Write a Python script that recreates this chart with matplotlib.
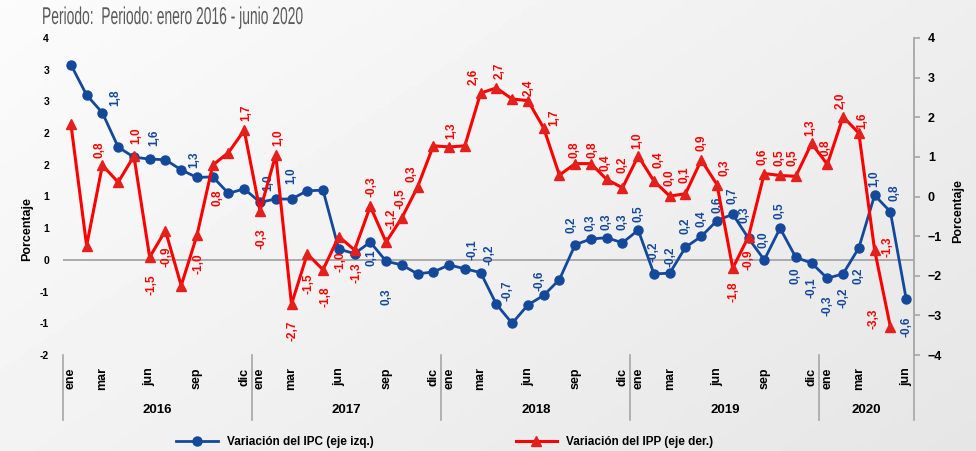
import numpy as np
import matplotlib
matplotlib.use("Agg")
import matplotlib.pyplot as plt
from matplotlib.lines import Line2D
from matplotlib.ticker import FuncFormatter
from matplotlib.patheffects import AbstractPathEffect
from matplotlib.transforms import Affine2D

# --- data ---
years = [2016, 2017, 2018, 2019, 2020]
months = ['ene', 'feb', 'mar', 'abr', 'may', 'jun', 'jul', 'ago', 'sep', 'oct', 'nov', 'dic']
shown_months = ['ene', 'mar', 'jun', 'sep', 'dic']
n_last_year = 6

ipc = [3.08, 2.60, 2.32, 1.78, 1.62, 1.59, 1.58, 1.42, 1.30, 1.31, 1.05, 1.12,
       0.91, 0.96, 0.96, 1.09, 1.10, 0.17, 0.10, 0.28, -0.02, -0.08, -0.22, -0.19,
       -0.08, -0.14, -0.20, -0.70, -1.00, -0.71, -0.56, -0.31, 0.24, 0.33, 0.35, 0.27,
       0.47, -0.22, -0.21, 0.20, 0.37, 0.62, 0.72, 0.34, 0.00, 0.50, 0.04, -0.05,
       -0.29, -0.22, 0.19, 1.02, 0.76, -0.61]

ipp = [1.83, -1.24, 0.79, 0.36, 1.02, -1.53, -0.86, -2.25, -0.98, 0.79, 1.11, 1.67,
       -0.36, 1.05, -2.72, -1.45, -1.85, -1.01, -1.35, -0.25, -1.15, -0.54, 0.24, 1.28,
       1.25, 1.28, 2.61, 2.74, 2.46, 2.42, 1.73, 0.54, 0.83, 0.83, 0.43, 0.22,
       1.02, 0.39, 0.01, 0.07, 0.92, 0.30, -1.81, -1.01, 0.58, 0.53, 0.51, 1.34,
       0.81, 2.01, 1.60, -1.35, -3.29, np.nan]

# data labels as printed on the chart (index -> text)
ipc_labels = {3: '1,8', 5: '1,6', 8: '1,3', 13: '1,0', 14: '1,0', 19: '0,1', 20: '0,3',
              25: '-0,1', 26: '-0,2', 27: '-0,7', 30: '-0,6', 32: '0,2', 33: '0,3',
              34: '0,3', 35: '0,3', 36: '0,5', 37: '-0,2', 38: '-0,2', 39: '0,2',
              40: '0,4', 41: '0,6', 42: '0,7', 43: '0,3', 44: '0,0', 45: '0,5',
              46: '0,0', 47: '-0,1', 48: '-0,3', 49: '-0,2', 50: '0,2', 51: '1,0',
              52: '0,8', 53: '-0,6'}
ipp_labels = {2: '0,8', 4: '1,0', 5: '-1,5', 6: '-0,9', 8: '-1,0', 9: '0,8', 11: '1,7',
              12: '-0,3', 13: '1,0', 14: '-2,7', 15: '-1,5', 16: '-1,8', 17: '-1,0',
              18: '-1,3', 19: '-0,3', 20: '-1,2', 21: '-0,5', 22: '0,3', 24: '1,3',
              26: '2,6', 27: '2,7', 29: '2,4', 30: '1,7', 32: '0,8', 33: '0,8',
              34: '0,4', 35: '0,2', 36: '1,0', 37: '0,4', 38: '0,0', 39: '0,1',
              40: '0,9', 41: '0,3', 42: '-1,8', 43: '-0,9', 44: '0,6', 45: '0,5',
              46: '0,5', 47: '1,3', 48: '0,8', 49: '2,0', 50: '1,6', 51: '-1,3',
              52: '-3,3'}

# label placement, pixel offsets from the point (x right, y down)
ipc_off = {3: (-3, -49), 5: (5, -21), 8: (-3, -18), 13: (-8, -16), 14: (0, -23),
           19: (1, 16), 20: (0, 36), 25: (8, -19), 26: (9, -18), 27: (11, -14),
           30: (-4, -15), 32: (-4, -20), 33: (0, -16), 34: (0, -16), 35: (0, -21),
           36: (0, -16), 37: (0, -22), 38: (1, -16), 39: (0, -21), 40: (0, -18),
           41: (0, -16), 42: (0, -19), 43: (-4, -24), 44: (-1, -20), 45: (-1, -18),
           46: (0, 18), 47: (0, 25), 48: (0, 27), 49: (0, 24), 50: (0, 28),
           51: (0, -17), 52: (4, -19), 53: (0, 28)}
ipp_off = {2: (-3, -15), 4: (2, -20), 5: (2, 28), 6: (1, 26), 8: (2, 28), 9: (5, 33),
           11: (2, -18), 12: (2, 28), 13: (3, -17), 14: (1, 27), 15: (1, 30),
           16: (2, 27), 17: (2, 25), 18: (2, 23), 19: (1, -20), 20: (5, -23),
           21: (-1, -19), 22: (-6, -13), 24: (2, -16), 26: (-7, -16), 27: (3, -17),
           29: (1, -13), 30: (11, -10), 32: (-1, -14), 33: (2, -14), 34: (-1, -17),
           35: (0, -23), 36: (-1, -15), 37: (5, -21), 38: (0, -18), 39: (-1, -19),
           40: (0, -17), 41: (7, -17), 42: (1, 24), 43: (0, 23), 44: (-2, -17),
           45: (-1, -18), 46: (-3, -19), 47: (-1, -16), 48: (-2, -17), 49: (-2, -16),
           50: (3, -12), 51: (13, -3), 52: (-17, -8)}

BLUE = '#14489a'
RED = '#ff0000'
RED_MK = '#e3201c'
GRAY = '#a6a6a6'
FONT = ['Liberation Sans', 'DejaVu Sans']

plt.rcParams['font.family'] = FONT

W, H = 976, 451
fig = plt.figure(figsize=(W / 100, H / 100), dpi=100)


class Condense(AbstractPathEffect):
    # squeeze text horizontally around x0 (display pixels), like a condensed face
    def __init__(self, sx, x0):
        super().__init__()
        self.sx = sx
        self.x0 = x0

    def draw_path(self, renderer, gc, tpath, affine, rgbFace=None):
        squeeze = Affine2D().translate(-self.x0, 0).scale(self.sx, 1).translate(self.x0, 0)
        renderer.draw_path(gc, tpath, affine + squeeze, rgbFace)


# soft diagonal gradient background
bg = fig.add_axes([0, 0, 1, 1], zorder=-10)
gx, gy = np.meshgrid(np.linspace(0, 1, 200), np.linspace(0, 1, 100))
grad = 0.985 - 0.085 * (0.6 * gx + 0.4 * gy)
bg.imshow(grad, cmap='gray', vmin=0, vmax=1, aspect='auto', extent=[0, 1, 0, 1])
bg.axis('off')

ax = fig.add_axes([63 / W, 96 / H, 851 / W, 317 / H])
ax.set_facecolor('none')
ax2 = ax.twinx()

x = np.arange(len(ipc))

ax.axhline(0, color=GRAY, lw=1.3, zorder=1)
ax.plot(x, ipc, color=BLUE, lw=2.0, marker='o', ms=6.5, mfc=BLUE, mec=BLUE, zorder=3)
ax2.plot(x, ipp, color=RED, lw=2.2, marker='^', ms=7, mfc=RED_MK, mec=RED_MK, zorder=3)

for i, txt in ipc_labels.items():
    dx, dy = ipc_off[i]
    ax.annotate(txt, (x[i], ipc[i]), xytext=(dx, -dy), textcoords='offset pixels',
                rotation=90, ha='center', va='center', color=BLUE,
                fontsize=8.5, fontweight='bold')
for i, txt in ipp_labels.items():
    dx, dy = ipp_off[i]
    ax2.annotate(txt, (x[i], ipp[i]), xytext=(dx, -dy), textcoords='offset pixels',
                 rotation=90, ha='center', va='center', color=RED,
                 fontsize=8.5, fontweight='bold')

ax.set_xlim(-0.5, len(ipc) - 0.5)
ax.set_ylim(-1.5, 3.5)
ax2.set_ylim(-4, 4)


def excel_round(v, pos):
    r = np.sign(v) * np.floor(abs(v) + 0.5)
    return f'{int(r)}'


ax.set_yticks(np.arange(-1.5, 3.51, 0.5))
ax.yaxis.set_major_formatter(FuncFormatter(excel_round))
ax2.set_yticks(np.arange(-4, 4.1, 1))

for s in ax.spines.values():
    s.set_visible(False)
for s in ['left', 'top', 'bottom']:
    ax2.spines[s].set_visible(False)
ax2.spines['right'].set_color(GRAY)
ax2.spines['right'].set_linewidth(1.3)

ax.tick_params(axis='y', length=0, pad=10, labelsize=7.5)
for t in ax.get_yticklabels():
    t.set_fontweight('bold')
ax2.tick_params(axis='y', length=4, width=1.2, color=GRAY, direction='out', pad=6, labelsize=9)
for t in ax2.get_yticklabels():
    t.set_fontweight('bold')

# month tick labels
month_lbls = []
for y in years:
    n = n_last_year if y == years[-1] else 12
    for m in months[:n]:
        month_lbls.append(m if m in shown_months else '')
ax.set_xticks(x)
ax.set_xticklabels(month_lbls, rotation=90, fontsize=9, fontweight='bold')
ax.tick_params(axis='x', length=0, pad=9)

# year labels and group dividers
trans = ax.get_xaxis_transform()
start = 0
bounds = [-0.5]
for y in years:
    n = n_last_year if y == years[-1] else 12
    ax.text(start + (n - 1) / 2, -0.173, str(y), transform=trans, ha='center',
            va='center', fontsize=9.5, fontweight='bold')
    start += n
    bounds.append(start - 0.5)
for b in bounds:
    ax.plot([b, b], [0, -0.205], transform=trans, color=GRAY, lw=1.2, clip_on=False)

fig.text(27 / W, 1 - 229 / H, 'Porcentaje', rotation=90, ha='center', va='center',
         fontsize=9, fontweight='bold')
fig.text(958 / W, 1 - 211 / H, 'Porcentaje', rotation=90, ha='center', va='center',
         fontsize=9, fontweight='bold')

fig.text(42 / W, 1 - 18 / H, 'Periodo:  Periodo: enero 2016 - junio 2020',
         ha='left', va='center', fontsize=17.5, color='#595959',
         path_effects=[Condense(0.57, 42)])

handles = [Line2D([], [], color=BLUE, lw=2.0, marker='o', ms=6.5),
           Line2D([], [], color=RED, lw=2.2, marker='^', ms=7, mfc=RED_MK, mec=RED_MK)]
fig.legend(handles, ['Variación del IPC (eje izq.)', 'Variación del IPP (eje der.)'],
           loc='center', bbox_to_anchor=(445 / W, 1 - 442 / H), ncol=2, frameon=False,
           handlelength=3.5, columnspacing=12, prop={'weight': 'bold', 'size': 8.5})

fig.savefig('out.png', dpi=100)
